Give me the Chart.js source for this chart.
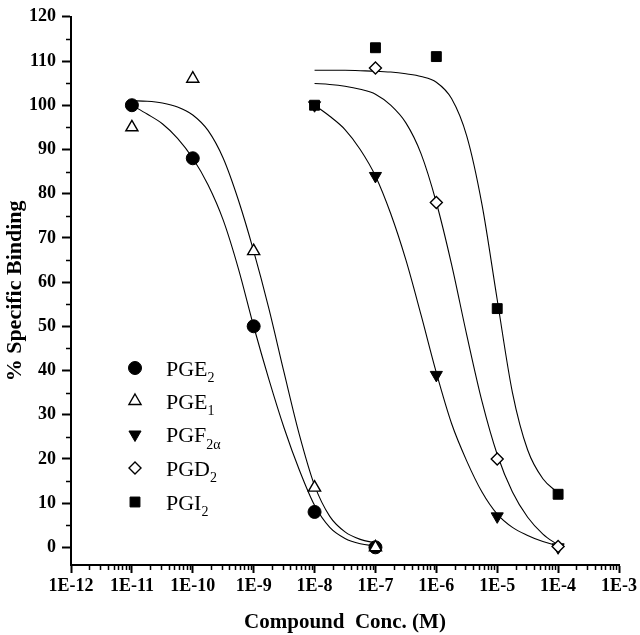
<!DOCTYPE html>
<html>
<head>
<meta charset="utf-8">
<script src="https://cdn.jsdelivr.net/npm/chart.js@4.4.0/dist/chart.umd.min.js"></script>
<style>
html, body { margin: 0; padding: 0; background: #fff; }
#wrap { width: 640px; height: 635px; }
</style>
</head>
<body>
<div id="wrap"><canvas id="chart_binding" width="640" height="635"></canvas></div>
<script>
// DATA - concentration (M) and % specific binding
const pge2Conc = [1e-11, 1e-10, 1e-9, 1e-8, 1e-7];
const pge2Bind = [100, 88, 50, 8, 0];

const pge1Conc = [1e-11, 1e-10, 1e-9, 1e-8, 1e-7];
const pge1Bind = [95, 106, 67, 13.5, 0];

const pgf2aConc = [1e-8, 1e-7, 1e-6, 1e-5, 1e-4];
const pgf2aBind = [100, 84, 39, 7, 0];

const pgd2Conc = [1e-7, 1e-6, 1e-5, 1e-4];
const pgd2Bind = [108.4, 78, 20, 0.2];

const pgi2Conc = [1e-8, 1e-7, 1e-6, 1e-5, 1e-4];
const pgi2Bind = [100, 113, 111, 54, 12];

// fitted curves, read at quarter decades (exponent of concentration)
const fitExpLow = [-11, -10.75, -10.5, -10.25, -10, -9.75, -9.5, -9.25, -9, -8.75, -8.5, -8.25, -8, -7.75, -7.5, -7.25, -7];
const fitExpHigh = [-8, -7.75, -7.5, -7.25, -7, -6.75, -6.5, -6.25, -6, -5.75, -5.5, -5.25, -5, -4.75, -4.5, -4.25, -4];

const pge2Fit = [100, 98, 95.8, 92.5, 88, 82, 74, 63, 50, 38, 27, 17.5, 9.5, 4.5, 2, 0.8, 0.3];
const pge1Fit = [101, 100.9, 100.5, 99.6, 97.8, 94.3, 88, 78.5, 67, 54, 39.5, 25.5, 14, 7, 3.5, 1.8, 1];
const pgf2aFit = [100, 97.5, 94.5, 90, 84, 75.5, 65, 52.5, 39.5, 28, 19.5, 12.5, 7.5, 4.5, 2.7, 1.3, 0.3];
const pgd2Fit = [104.9, 104.7, 104.3, 103.6, 102.5, 100, 96, 89, 78, 64, 48, 33, 21, 12.5, 6.8, 3, 0.5];
const pgi2Fit = [107.9, 107.9, 107.9, 107.8, 107.7, 107.5, 107.1, 106.5, 105.2, 101.5, 93, 77.5, 56, 35, 22, 15.5, 12.3];

// axis ticks
const xTickExp = [-12, -11, -10, -9, -8, -7, -6, -5, -4, -3];
const yTicks = [0, 10, 20, 30, 40, 50, 60, 70, 80, 90, 100, 110, 120];

// legend text
const legendNames = ['PGE', 'PGE', 'PGF', 'PGD', 'PGI'];
const legendSubs = ['2', '1', '2\u03b1', '2', '2'];

const SERIF = '"Liberation Serif", "Times New Roman", serif';

function pts(conc, bind) {
    return conc.map((c, i) => ({x: c, y: bind[i]}));
}
function fit(exps, bind) {
    return exps.map((e, i) => ({x: Math.pow(10, e), y: bind[i]}));
}

// marker styles, same order as legend
const markers = [
    {pointStyle: 'circle', radius: 6.5, rotation: 0, fill: '#000', borderWidth: 1},
    {pointStyle: 'triangle', radius: 7, rotation: 0, fill: '#fff', borderWidth: 1.4},
    {pointStyle: 'triangle', radius: 7, rotation: 180, fill: '#000', borderWidth: 1},
    {pointStyle: 'rectRot', radius: 6, rotation: 0, fill: '#fff', borderWidth: 1.4},
    {pointStyle: 'rect', radius: 7, rotation: 0, fill: '#000', borderWidth: 1}
];

function pointSet(label, data, m, order) {
    return {
        label: label,
        data: data,
        showLine: false,
        pointStyle: m.pointStyle,
        pointRadius: m.radius,
        pointRotation: m.rotation,
        pointBackgroundColor: m.fill,
        pointBorderColor: '#000',
        pointBorderWidth: m.borderWidth,
        order: order
    };
}
function curveSet(label, data) {
    return {
        label: label + ' fit',
        data: data,
        showLine: true,
        pointRadius: 0,
        borderColor: '#000',
        borderWidth: 1.1,
        cubicInterpolationMode: 'monotone',
        fill: false,
        order: 10
    };
}

const datasets = [
    pointSet('PGE\u2082', pts(pge2Conc, pge2Bind), markers[0], 2),
    pointSet('PGE\u2081', pts(pge1Conc, pge1Bind), markers[1], 1),
    pointSet('PGF\u2082\u03b1', pts(pgf2aConc, pgf2aBind), markers[2], 2),
    pointSet('PGD\u2082', pts(pgd2Conc, pgd2Bind), markers[3], 1),
    pointSet('PGI\u2082', pts(pgi2Conc, pgi2Bind), markers[4], 2),
    curveSet('PGE\u2082', fit(fitExpLow, pge2Fit)),
    curveSet('PGE\u2081', fit(fitExpLow, pge1Fit)),
    curveSet('PGF\u2082\u03b1', fit(fitExpHigh, pgf2aFit)),
    curveSet('PGD\u2082', fit(fitExpHigh, pgd2Fit)),
    curveSet('PGI\u2082', fit(fitExpHigh, pgi2Fit))
];

// MINOR TICKS
const minorTicks = {
    id: 'minorTicks',
    afterDraw(chart) {
        const ctx = chart.ctx;
        const x = chart.scales.x;
        const y = chart.scales.y;
        ctx.save();
        ctx.strokeStyle = '#000';
        ctx.lineWidth = 1.5;
        ctx.beginPath();
        for (let e = -12; e < -3; e++) {
            for (let m = 2; m <= 9; m++) {
                const px = Math.round(x.getPixelForValue(m * Math.pow(10, e))) + 0.5;
                ctx.moveTo(px, y.bottom);
                ctx.lineTo(px, y.bottom + 5);
            }
        }
        for (let v = 5; v < 120; v += 10) {
            const py = Math.round(y.getPixelForValue(v)) + 0.5;
            ctx.moveTo(x.left, py);
            ctx.lineTo(x.left - 5, py);
        }
        ctx.stroke();
        ctx.restore();
    }
};

// LEGEND inside the plot
const legendBox = {
    id: 'legendBox',
    afterDraw(chart) {
        const ctx = chart.ctx;
        const rows = [368, 401, 434.5, 468, 502];
        ctx.save();
        rows.forEach(function(ry, i) {
            const m = markers[i];
            ctx.fillStyle = m.fill;
            ctx.strokeStyle = '#000';
            ctx.lineWidth = m.borderWidth;
            Chart.helpers.drawPoint(ctx, {pointStyle: m.pointStyle, radius: m.radius, rotation: m.rotation, borderWidth: m.borderWidth}, 135, ry);
            ctx.fillStyle = '#000';
            ctx.textBaseline = 'alphabetic';
            ctx.textAlign = 'left';
            ctx.font = '22px ' + SERIF;
            ctx.fillText(legendNames[i], 166, ry + 7.5);
            const w = ctx.measureText(legendNames[i]).width;
            ctx.font = '14px ' + SERIF;
            ctx.fillText(legendSubs[i], 166 + w, ry + 14);
        });
        ctx.restore();
    }
};

// CHART
const ctx_binding = document.getElementById('chart_binding');

const chart_binding = new Chart(ctx_binding, {
type: 'scatter',
data: {
    datasets: datasets
},
options: {
    responsive: false,
    animation: false,
    layout: {
        padding: {left: 0, right: 18, top: 12, bottom: 0}
    },
    plugins: {
        legend: {display: false},
        tooltip: {enabled: false}
    },
    scales: {
        x: {
            type: 'logarithmic',
            min: 1e-12,
            max: 1e-3,
            afterBuildTicks: function(scale) {
                scale.ticks = xTickExp.map(e => ({value: Math.pow(10, e), major: true}));
            },
            afterFit: function(scale) {
                scale.height = 70;
            },
            ticks: {
                autoSkip: false,
                maxRotation: 0,
                padding: 3,
                color: '#000',
                font: {family: SERIF, weight: 'bold', size: 18},
                callback: function(value) {
                    return '1E' + Math.round(Math.log10(value));
                }
            },
            grid: {
                display: true,
                drawOnChartArea: false,
                drawTicks: true,
                tickLength: 8,
                tickColor: '#000',
                tickWidth: 2
            },
            border: {display: true, color: '#000', width: 2},
            title: {
                display: true,
                text: 'Compound  Conc. (M)',
                color: '#000',
                font: {family: SERIF, weight: 'bold', size: 21},
                padding: {top: 0, bottom: 0}
            }
        },
        y: {
            min: -4,
            max: 120,
            afterBuildTicks: function(scale) {
                scale.ticks = yTicks.map(v => ({value: v}));
            },
            afterFit: function(scale) {
                scale.width = 71;
            },
            ticks: {
                padding: 6,
                color: '#000',
                font: {family: SERIF, weight: 'bold', size: 18}
            },
            grid: {
                display: true,
                drawOnChartArea: false,
                drawTicks: true,
                tickLength: 9,
                tickColor: '#000',
                tickWidth: 2
            },
            border: {display: true, color: '#000', width: 2},
            title: {
                display: true,
                text: '% Specific Binding',
                color: '#000',
                font: {family: SERIF, weight: 'bold', size: 22},
                padding: {top: 2, bottom: 0}
            }
        }
    }
},
plugins: [minorTicks, legendBox]
});
</script>
</body>
</html>
